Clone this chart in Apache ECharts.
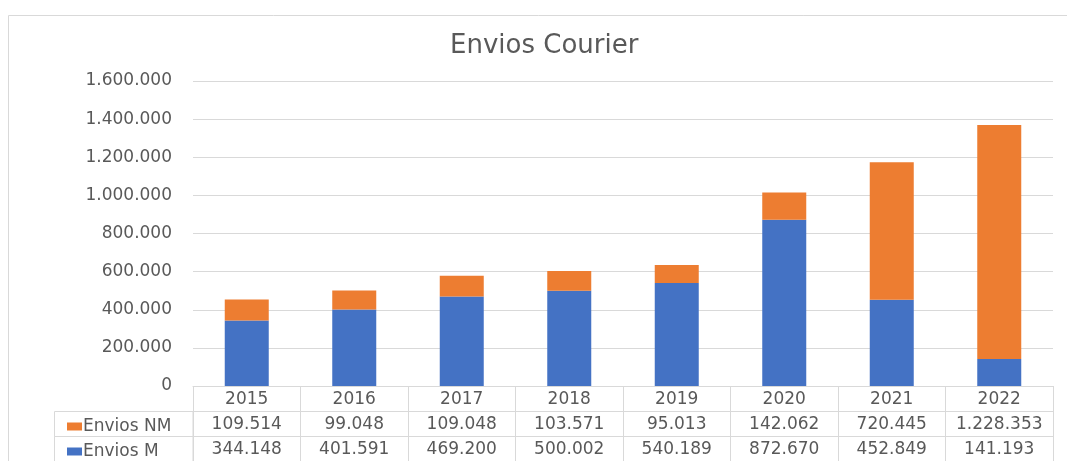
<!DOCTYPE html>
<html>
<head>
<meta charset="utf-8">
<title>Envios Courier</title>
<script src="https://cdn.jsdelivr.net/npm/echarts@6/dist/echarts.min.js"></script>
<style>
  html, body { margin: 0; padding: 0; background: #fff; }
  #chart { width: 1067px; height: 461px; }
</style>
</head>
<body>
<div id="chart"></div>
<script>
// datos
const years = ['2015', '2016', '2017', '2018', '2019', '2020', '2021', '2022']
const enviosNM = [109514, 99048, 109048, 103571, 95013, 142062, 720445, 1228353]
const enviosM = [344148, 401591, 469200, 500002, 540189, 872670, 452849, 141193]

const FONT = 'DejaVu Sans'
const GRAY = '#595959'
const LINE = '#d9d9d9'
const FS = 17

// separador de miles con punto
function fmt(v) {
  return String(v).replace(/\B(?=(\d{3})+(?!\d))/g, '.')
}

// eje de la tabla: una fila por eje, desplazada con offset
function tableAxis(data, offset) {
  return {
    type: 'category',
    gridIndex: 0,
    position: 'bottom',
    offset: offset,
    data: data,
    axisLine: { show: true, lineStyle: { color: LINE, width: 1 } },
    axisTick: { show: true, length: 25, interval: 0, lineStyle: { color: LINE, width: 1 } },
    axisLabel: { margin: 5, interval: 0, color: GRAY, fontFamily: FONT, fontSize: FS },
    splitLine: { show: false }
  }
}

// leyenda de una fila de la tabla
function rowLegend(name, top) {
  return {
    orient: 'vertical',
    left: 62,
    top: top,
    itemWidth: 15,
    itemHeight: 8,
    icon: 'rect',
    data: [name],
    textStyle: { color: GRAY, fontFamily: FONT, fontSize: FS, padding: [0, 0, 0, -4] }
  }
}

const chart = echarts.init(document.getElementById('chart'))

chart.setOption({
  animation: false,
  color: ['#4472c4', '#ed7d31'],
  title: {
    text: 'Envios Courier',
    left: 450,
    top: 33,
    padding: 0,
    textStyle: { color: GRAY, fontFamily: FONT, fontSize: 26, fontWeight: 'normal' }
  },
  grid: { left: 193, right: 14, top: 81, bottom: 75, containLabel: false },
  legend: [
    rowLegend('Envios NM', 413),
    rowLegend('Envios M', 438)
  ],
  xAxis: [
    tableAxis(years, 0),
    tableAxis(enviosNM.map(fmt), 25),
    tableAxis(enviosM.map(fmt), 50)
  ],
  yAxis: {
    type: 'value',
    min: 0,
    max: 1600000,
    interval: 200000,
    axisLine: { show: false },
    axisTick: { show: false },
    axisLabel: { margin: 21, color: GRAY, fontFamily: FONT, fontSize: FS, formatter: fmt },
    splitLine: { lineStyle: { color: LINE, width: 1 } }
  },
  graphic: [
    // borde exterior del area del grafico
    { type: 'rect', silent: true, shape: { x: 8.5, y: 15.5, width: 1070, height: 470 },
      style: { fill: 'none', stroke: LINE, lineWidth: 1 } },
    // celdas de la columna de leyenda de la tabla
    { type: 'rect', silent: true, shape: { x: 54.5, y: 411.5, width: 138.5, height: 25 },
      style: { fill: 'none', stroke: LINE, lineWidth: 1 } },
    { type: 'rect', silent: true, shape: { x: 54.5, y: 436.5, width: 138.5, height: 30 },
      style: { fill: 'none', stroke: LINE, lineWidth: 1 } }
  ],
  series: [
    {
      name: 'Envios M',
      type: 'bar',
      stack: 'total',
      xAxisIndex: 0,
      barWidth: 44,
      data: enviosM
    },
    {
      name: 'Envios NM',
      type: 'bar',
      stack: 'total',
      xAxisIndex: 0,
      barWidth: 44,
      data: enviosNM
    }
  ]
})
</script>
</body>
</html>
